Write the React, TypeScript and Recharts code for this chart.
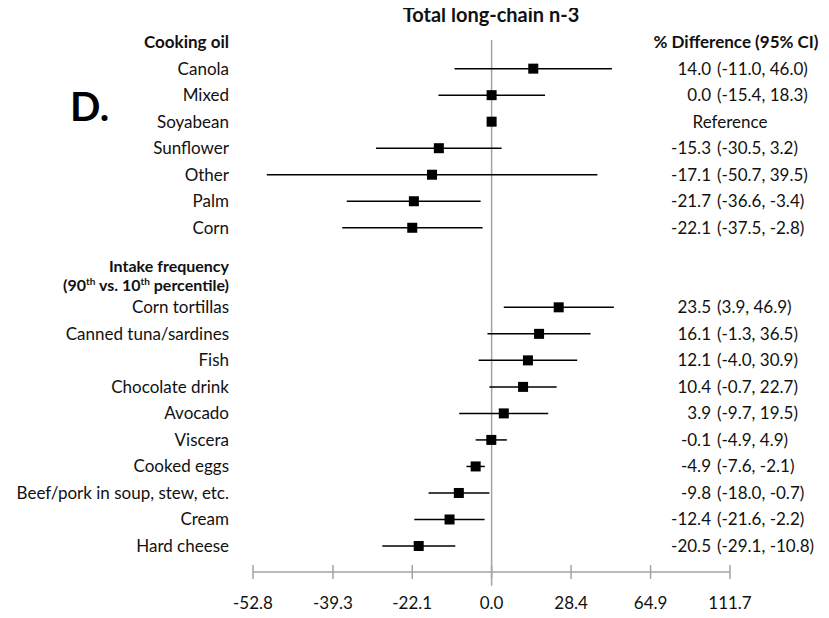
import { ScatterChart, Scatter, XAxis, YAxis, ErrorBar, ReferenceLine } from 'recharts'

// cooking oil rows (Soyabean is the reference category)
const oilNames = ['Canola', 'Mixed', 'Soyabean', 'Sunflower', 'Other', 'Palm', 'Corn']
const oilEst = [14.0, 0.0, 0.0, -15.3, -17.1, -21.7, -22.1]
const oilLow = [-11.0, -15.4, 0.0, -30.5, -50.7, -36.6, -37.5]
const oilHigh = [46.0, 18.3, 0.0, 3.2, 39.5, -3.4, -2.8]

// intake frequency rows (90th vs 10th percentile)
const foodNames = [
  'Corn tortillas',
  'Canned tuna/sardines',
  'Fish',
  'Chocolate drink',
  'Avocado',
  'Viscera',
  'Cooked eggs',
  'Beef/pork in soup, stew, etc.',
  'Cream',
  'Hard cheese',
]
const foodEst = [23.5, 16.1, 12.1, 10.4, 3.9, -0.1, -4.9, -9.8, -12.4, -20.5]
const foodLow = [3.9, -1.3, -4.0, -0.7, -9.7, -4.9, -7.6, -18.0, -21.6, -29.1]
const foodHigh = [46.9, 36.5, 30.9, 22.7, 19.5, 4.9, -2.1, -0.7, -2.2, -10.8]

const xTickLabels = ['-52.8', '-39.3', '-22.1', '0.0', '28.4', '64.9', '111.7']

const OIL_START = 1
const FOOD_START = 10
const HEADER_OIL = 0
const HEADER_FOOD = 9

const FONT = 'Lato, "Open Sans", sans-serif'
const FS = 17
const GRID = '#a3a3a3'

// % difference -> log ratio, which is what the x axis is laid out in
const toLog = (p: number) => Math.log(1 + p / 100)
const xTicks = xTickLabels.map((t) => toLog(parseFloat(t)))

const fmt = (v: number) => v.toFixed(1)

type Row = { y: number; name: string; est: number; low: number; high: number; isRef?: boolean }

const rows: Row[] = [
  ...oilNames.map((name, i) => ({
    y: OIL_START + i,
    name,
    est: oilEst[i],
    low: oilLow[i],
    high: oilHigh[i],
    isRef: name === 'Soyabean',
  })),
  ...foodNames.map((name, i) => ({
    y: FOOD_START + i,
    name,
    est: foodEst[i],
    low: foodLow[i],
    high: foodHigh[i],
  })),
]

const points = rows.map((r) => {
  const x = toLog(r.est)
  return { y: r.y, x, err: [x - toLog(r.low), toLog(r.high) - x] }
})

const rowTicks = [HEADER_OIL, HEADER_FOOD, ...rows.map((r) => r.y)]

function LeftTick({ x, y, payload }: any) {
  const v = payload.value
  const tx = x - 24
  const common = { fontFamily: FONT, fontSize: FS, fill: '#111' }
  if (v === HEADER_OIL) {
    return (
      <text x={tx} y={y} dy="0.35em" textAnchor="end" fontWeight={700} {...common}>
        Cooking oil
      </text>
    )
  }
  if (v === HEADER_FOOD) {
    // two-line bold header with superscript "th"
    return (
      <text textAnchor="end" fontWeight={700} fontFamily={FONT} fontSize={16} fill="#111">
        <tspan x={tx} y={y - 14} dy="0.35em">Intake frequency</tspan>
        <tspan x={tx} y={y + 5} dy="0.35em">
          (90<tspan dy={-6} fontSize={10}>th</tspan>
          <tspan dy={6}> vs. 10</tspan>
          <tspan dy={-6} fontSize={10}>th</tspan>
          <tspan dy={6}> percentile)</tspan>
        </tspan>
      </text>
    )
  }
  const r = rows.find((d) => d.y === v)
  return (
    <text x={tx} y={y} dy="0.35em" textAnchor="end" {...common}>
      {r ? r.name : ''}
    </text>
  )
}

function RightTick({ y, payload }: any) {
  const v = payload.value
  const common = { fontFamily: FONT, fontSize: FS, fill: '#111' }
  if (v === HEADER_OIL) {
    return (
      <text x={736} y={y} dy="0.35em" textAnchor="middle" fontWeight={700} {...common}>
        % Difference (95% CI)
      </text>
    )
  }
  const r = rows.find((d) => d.y === v)
  if (!r) return null
  if (r.isRef) {
    return (
      <text x={730} y={y} dy="0.35em" textAnchor="middle" {...common}>
        Reference
      </text>
    )
  }
  return (
    <g>
      <text x={711} y={y} dy="0.35em" textAnchor="end" {...common}>
        {fmt(r.est)}
      </text>
      <text x={717} y={y} dy="0.35em" textAnchor="start" {...common}>
        ({fmt(r.low)}, {fmt(r.high)})
      </text>
    </g>
  )
}

function BottomTick({ x, y, index }: any) {
  return (
    <g>
      <line x1={x} x2={x} y1={y - 7} y2={y + 7} stroke={GRID} strokeWidth={1.5} />
      <text x={x} y={y + 31} dy="0.35em" textAnchor="middle" fontFamily={FONT} fontSize={FS} fill="#111">
        {xTickLabels[index]}
      </text>
    </g>
  )
}

const Square = (props: any) => {
  const { cx, cy } = props
  return <rect x={cx - 5} y={cy - 5} width={10} height={10} fill="#000" />
}

export default function App() {
  return (
    <div style={{ position: 'relative', margin: -8, width: 829, height: 618, background: '#fff' }}>
      <ScatterChart width={829} height={618} margin={{ top: 40, right: 0, bottom: 6, left: 0 }}>
        <XAxis
          type="number"
          dataKey="x"
          domain={[xTicks[0], xTicks[xTicks.length - 1]]}
          ticks={xTicks}
          interval={0}
          height={40}
          tickSize={0}
          tickMargin={0}
          tickLine={false}
          axisLine={{ stroke: GRID, strokeWidth: 1.5 }}
          tick={<BottomTick />}
          allowDataOverflow
        />
        <YAxis
          yAxisId="left"
          type="number"
          dataKey="y"
          orientation="left"
          width={253}
          domain={[-0.08, 19.98]}
          reversed
          ticks={rowTicks}
          interval={0}
          tickSize={0}
          tickMargin={0}
          axisLine={false}
          tickLine={false}
          tick={<LeftTick />}
          allowDataOverflow
        />
        <YAxis
          yAxisId="right"
          type="number"
          dataKey="y"
          orientation="right"
          width={99}
          domain={[-0.08, 19.98]}
          reversed
          ticks={rowTicks}
          interval={0}
          tickSize={0}
          tickMargin={0}
          axisLine={false}
          tickLine={false}
          tick={<RightTick />}
          allowDataOverflow
        />
        <ReferenceLine
          yAxisId="left"
          segment={[
            { x: 0, y: -0.08 },
            { x: 0, y: 20.5 },
          ]}
          stroke={GRID}
          strokeWidth={1.5}
          ifOverflow="visible"
        />
        <Scatter yAxisId="left" data={points} shape={<Square />} isAnimationActive={false}>
          <ErrorBar dataKey="err" direction="x" width={0} stroke="#000" strokeWidth={1.5} />
        </Scatter>
        <Scatter yAxisId="right" data={points} shape={() => <g />} isAnimationActive={false} />
      </ScatterChart>
      <div
        style={{
          position: 'absolute',
          left: 0,
          width: 982,
          top: 2,
          zIndex: 2,
          textAlign: 'center',
          fontFamily: FONT,
          fontWeight: 700,
          fontSize: 20,
          lineHeight: '24px',
          color: '#111',
        }}
      >
        Total long-chain n-3
      </div>
      <div
        style={{
          position: 'absolute',
          left: 70,
          top: 82,
          zIndex: 2,
          fontFamily: FONT,
          fontWeight: 700,
          fontSize: 40,
          lineHeight: '48px',
          color: '#000',
        }}
      >
        D.
      </div>
    </div>
  )
}
